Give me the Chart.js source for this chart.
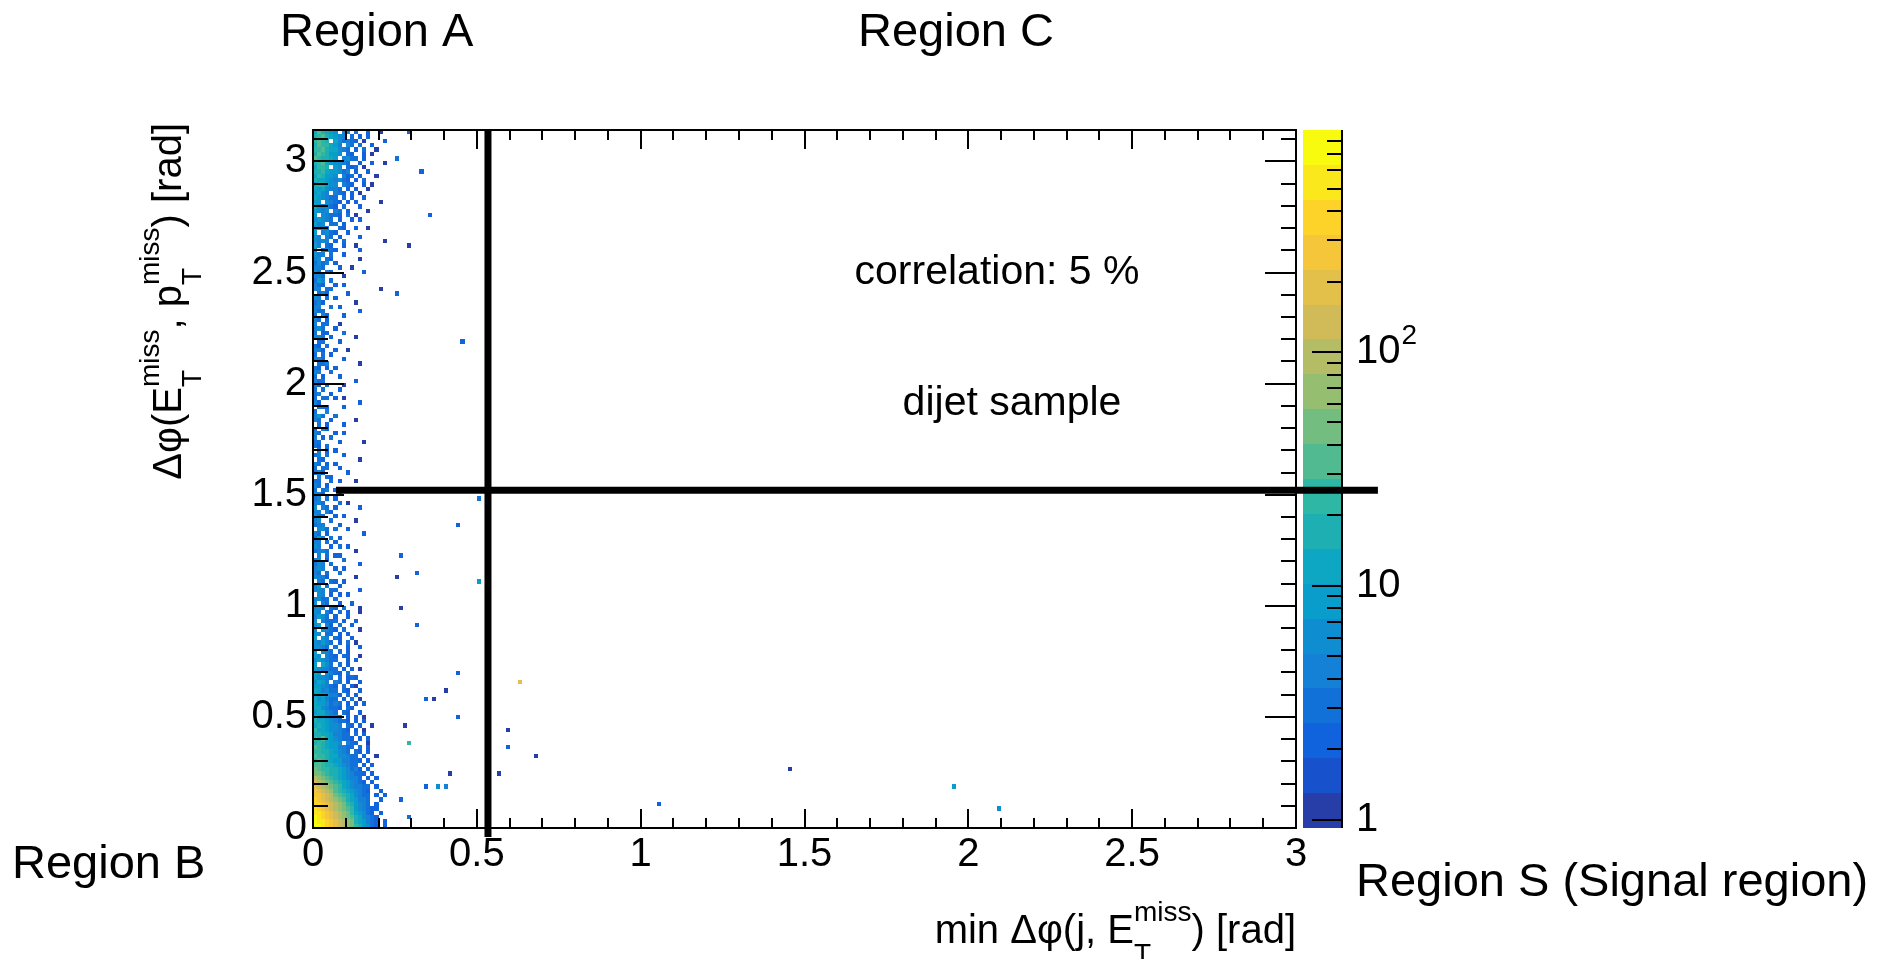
<!DOCTYPE html>
<html>
<head>
<meta charset="utf-8">
<title>min dphi correlation - dijet sample</title>
<script src="https://cdn.jsdelivr.net/npm/chart.js"></script>
<style>
body { margin: 0; background: #fff; }
#wrap { width: 1890px; height: 959px; }
</style>
</head>
<body>
<div id="wrap"><canvas id="corr-chart"></canvas></div>
<script>
// axis ticks
var xTickValues = [0, 0.5, 1, 1.5, 2, 2.5, 3];
var xTickLabels = ['0', '0.5', '1', '1.5', '2', '2.5', '3'];
var yTickValues = [0, 0.5, 1, 1.5, 2, 2.5, 3];
var yTickLabels = ['0', '0.5', '1', '1.5', '2', '2.5', '3'];
var zTickValues = [1, 10, 100];
var zTickLabels = ['1', '10', '10'];
var zTickExp = ['', '', '2'];

// colour axis range (log) and number of contours
var zMin = 0.92;
var zMax = 890;
var nLevels = 20;

// binning
var xBinWidth = 0.0125;
var yBinWidth = Math.PI / 160;

// entries per bin, one char per bin
var levelCounts = {'1':1,'2':2,'3':3,'4':4,'5':6,'6':8,'7':11,'8':15,'9':21,'a':30,
  'b':42,'c':60,'d':85,'e':120,'f':170,'g':240,'h':340,'i':480,'j':680};

// rows of the 2D histogram, top (y = pi) first, x from 0 in steps of xBinWidth
var densityRows = [
'7a876|5.45.|3..2.|.1...',
'89a87|654.3|.2.2.|.....',
'9a98.|75343|2.1..|..2..',
'8a997|64.53|.3..2|.....',
'99a87|7543.|2.3..|1....',
'8a986|65.32|..2.1|.....',
'a9887|6.453|3.2..|.....',
'89a76|5543.|.2..2|..1..',
'7998.|65.32|3.1..|.....',
'88976|6534.|2..2.|.....',
'79866|5.423|.2...|1....',
'87765|4532.|2.3..|.....',
'78865|5.432|..2.1|.....',
'76754|43.2.|2..1.|.....',
'6754.|432.2|.1...|.....',
'76543|3.3.2|..2..|.....',
'66.54|32.2.|2....|.1...',
'75453|2.3..|.2...|.....',
'6545.|43.2.|...1.|.....',
'6.543|32.3.|1....|.....',
'56543|.2..2|.2...|.....',
'645.3|3.2..|.....|.....',
'5543.|.32..|2..1.|.....',
'6.453|2..2.|.....|.....',
'54.43|.2...|.2...|.....',
'5454.|2.3..|.....|..1..',
'64.32|..2..|1....|.....',
'5.443|2....|.2...|.....',
'544.3|..2..|.....|.....',
'45.32|.....|.1...|.....',
'3534.|2....|.....|.....',
'443..|.2..1|.....|.....',
'53.42|.....|..2..|.....',
'443..|..1..|.....|.....',
'364.3|.....|.....|.....',
'432..|2.2..|.....|.....',
'44.33|.....|.....|.1...',
'.342.|...2.|.....|.....',
'54.3.|2....|.....|.....',
'342..|.....|1....|.....',
'44..3|.2...|.....|.....',
'433..|.....|.2...|.....',
'3.42.|..2..|.....|.....',
'43.2.|.....|.....|.....',
'4.33.|.1...|.....|.....',
'453..|2....|.....|.....',
'3.22.|..3..|.....|.....',
'443.2|.....|1....|.....',
'.33..|.2...|.....|.....',
'32.3.|.....|.....|.....',
'442..|2..1.|.....|.....',
'3.3.2|.....|.....|.....',
'443..|..2..|.....|.....',
'.334.|.....|.1...|.....',
'32.2.|2....|.....|.....',
'44..3|.....|.....|.....',
'3.2..|.2...|.....|.....',
'433..|.....|2....|.....',
'42.3.|..1..|.....|.....',
'3.3..|.2...|.....|.....',
'34..2|.....|.....|.....',
'3.33.|2.1..|.....|.....',
'42...|.....|.2...|.....',
'.332.|..2..|.....|.....',
'3..4.|.....|.....|.....',
'463..|3....|.....|.....',
'43..2|.....|1....|.....',
'.3.2.|..2..|.....|.....',
'3.42.|.....|.....|.....',
'43...|2.2..|.....|.....',
'4.2.3|.....|.....|.....',
'33...|.2...|..1..|.....',
'32.3.|.....|.....|.....',
'.4.2.|2....|.....|.....',
'34.3.|..2..|.....|.....',
'.32..|.....|.1...|.....',
'43.2.|2....|.....|.....',
'3.33.|.2...|.....|.....',
'342..|...2.|.....|.....',
'.4.32|.....|.....|.....',
'33..3|.2...|1....|.....',
'43.2.|.....|.....|.....',
'3.34.|2..2.|.....|.....',
'442..|.3...|.....|.....',
'34.3.|2....|.....|.....',
'443..|.3.1.|.....|.....',
'5.43.|2....|.2...|.....',
'44.42|.....|.....|.....',
'533..|2.2..|.....|.....',
'45..3|.....|1....|.....',
'344..|.2...|.....|.....',
'.553.|3..2.|.....|.....',
'43.2.|.....|..2..|.....',
'364.3|.2...|.....|.....',
'44.3.|2....|.....|.....',
'54..2|.3.2.|.....|.....',
'3443.|.....|1....|.....',
'.4.3.|22...|.....|.....',
'45.2.|..3..|.....|.....',
'354.3|.....|.2...|.....',
'454..|2.2..|.....|.....',
'43.3.|.3...|.....|.....',
'5442.|.....|1....|.....',
'.43.3|2.2..|.....|.....',
'46.3.|.2...|.....|.....',
'554.3|3....|.2...|.....',
'.54.2|.2.2.|.....|.....',
'4533.|3....|.....|.....',
'5.43.|.2..2|.....|.....',
'454.3|2.3..|.1...|.....',
'54.42|.3.2.|.1...|.....',
'4653.|2..2.|.....|.....',
'5.433|3.2..|2....|.....',
'56.42|.3..2|.....|.....',
'4.543|2.3..|.1...|.....',
'55.33|.2.2.|.....|.....',
'6.54.|32..2|.....|.....',
'54643|.2.3.|1....|.....',
'5543.|3..2.|.2...|.....',
'6.543|.3.2.|.....|.....',
'65.43|2.32.|.1...|.....',
'56543|3..2.|2....|.....',
'6.753|.3.2.|.....|.....',
'65443|3.2.2|.1...|.....',
'76.54|32.3.|.....|.....',
'65543|.3.23|2....|.....',
'5764.|43.2.|.2...|.....',
'66543|2.3.2|1....|.....',
'76453|3.32.|.2...|.....',
'66754|42.3.|2....|.....',
'75643|3.2.3|.1...|.....',
'76653|43.2.|2.2..|.....',
'77543|32.32|.....|.....',
'67754|3.32.|.2...|.....',
'86654|43.2.|2.1..|.....',
'87765|4332.|2.2..|.....',
'78765|54.32|.2..1|.....',
'97765|5432.|2.1..|.....',
'88776|4433.|3.2..|.....',
'98a76|54332|.2.2.|.....',
'89876|65.43|2..1.|.....',
'a9876|64433|.3.2.|.....',
'99887|6543.|32.2.|.....',
'a9987|75543|3.2..|1....',
'9a987|66443|32.2.|.....',
'aa988|76543|3.2.2|.....',
'ba998|87653|42.2.|.....',
'bba98|87654|332.2|.....',
'dcba9|87654|43.2.|2....',
'edcba|98765|432.2|.....',
'fedcb|a9765|4433.|2....',
'gfedc|a9876|5432.|.2...',
'ggfed|ba987|5433.|2.2..',
'hgfed|cba87|6443.|.2...',
'hhgfe|dcb98|6543.|2....',
'ihgfe|dcba9|65432|2....',
'iihgf|edcb9|76532|.2...',
'jihgf|edcba|87543|2....',
'jiihg|fedcb|87643|2.2..',
'jjihg|fedcb|98653|2.2..'
];

// isolated bins further out: [x, y, entries]
var extraCells = [
  [0.30, 3.13, 2], [0.33, 2.95, 2], [0.36, 2.75, 2], [0.29, 2.62, 1], [0.26, 2.40, 2],
  [0.25, 3.02, 3], [0.46, 2.19, 2], [0.27, 1.22, 2], [0.32, 1.14, 2], [0.26, 1.13, 1],
  [0.44, 1.36, 2], [0.50, 1.48, 3], [0.50, 1.10, 8], [0.27, 0.99, 1], [0.32, 0.92, 2],
  [0.44, 0.70, 2], [0.40, 0.61, 1], [0.35, 0.58, 2], [0.37, 0.58, 1], [0.63, 0.66, 170],
  [0.44, 0.50, 2], [0.60, 0.44, 1], [0.60, 0.36, 2], [0.68, 0.32, 1], [0.57, 0.24, 1],
  [1.46, 0.26, 1], [1.95, 0.18, 8], [0.415, 0.24, 1], [0.35, 0.18, 2], [0.38, 0.18, 6],
  [0.40, 0.18, 4], [0.29, 0.38, 21], [0.28, 0.46, 1], [1.05, 0.11, 2], [2.09, 0.09, 6],
  [0.30, 0.05, 3], [0.27, 0.12, 2]
];

// region cuts
var verticalCut = [{x: 0.534, y: -0.04}, {x: 0.534, y: Math.PI}];
var horizontalCut = [{x: 0.07, y: 1.52}, {x: 3.25, y: 1.52}];

// kBird palette
var birdStops = [0.0, 0.125, 0.25, 0.375, 0.5, 0.625, 0.75, 0.875, 1.0];
var birdR = [0.2082, 0.0592, 0.0780, 0.0232, 0.1802, 0.5301, 0.8186, 0.9956, 0.9764];
var birdG = [0.1664, 0.3599, 0.5041, 0.6419, 0.7178, 0.7492, 0.7328, 0.7862, 0.9832];
var birdB = [0.5293, 0.8684, 0.8385, 0.7914, 0.6425, 0.4662, 0.3499, 0.1968, 0.0539];

var FONT = '"Liberation Sans", Arial, sans-serif';

function birdColor(f) {
  var i = 0;
  while (i < birdStops.length - 2 && f > birdStops[i + 1]) i++;
  var t = (f - birdStops[i]) / (birdStops[i + 1] - birdStops[i]);
  var r = birdR[i] + t * (birdR[i + 1] - birdR[i]);
  var g = birdG[i] + t * (birdG[i + 1] - birdG[i]);
  var b = birdB[i] + t * (birdB[i + 1] - birdB[i]);
  return 'rgb(' + Math.round(r * 255) + ',' + Math.round(g * 255) + ',' + Math.round(b * 255) + ')';
}
function levelColor(k) {
  return birdColor(Math.floor((k + 0.99) * 255 / nLevels) / 254);
}
function countColor(v) {
  var k = Math.floor((Math.log10(v) - Math.log10(zMin)) / (Math.log10(zMax) - Math.log10(zMin)) * nLevels);
  return levelColor(Math.max(0, Math.min(nLevels - 1, k)));
}

var cellPoints = [];
densityRows.forEach(function(row, r) {
  var cells = row.replace(/\|/g, '');
  for (var c = 0; c < cells.length; c++) {
    var ch = cells.charAt(c);
    if (ch === '.') continue;
    cellPoints.push({x: c * xBinWidth, y: Math.PI - (r + 1) * yBinWidth, v: levelCounts[ch]});
  }
});
extraCells.forEach(function(e) {
  cellPoints.push({x: Math.floor(e[0] / xBinWidth) * xBinWidth, y: Math.floor(e[1] / yBinWidth) * yBinWidth, v: e[2]});
});

// text with stacked sub/superscripts, e.g. E_T^miss
function richWidth(ctx, parts, size) {
  var w = 0;
  parts.forEach(function(p) {
    if (typeof p === 'string') {
      ctx.font = size + 'px ' + FONT;
      w += ctx.measureText(p).width;
    } else {
      ctx.font = Math.round(size * 0.7) + 'px ' + FONT;
      w += Math.max(ctx.measureText(p.sub).width, ctx.measureText(p.sup).width);
    }
  });
  return w;
}
function drawRich(ctx, parts, x, y, size) {
  ctx.textBaseline = 'alphabetic';
  ctx.textAlign = 'left';
  parts.forEach(function(p) {
    if (typeof p === 'string') {
      ctx.font = size + 'px ' + FONT;
      ctx.fillText(p, x, y);
      x += ctx.measureText(p).width;
    } else {
      ctx.font = Math.round(size * 0.7) + 'px ' + FONT;
      ctx.fillText(p.sup, x, y - size * 0.55);
      ctx.fillText(p.sub, x, y + size * 0.5);
      x += Math.max(ctx.measureText(p.sub).width, ctx.measureText(p.sup).width);
    }
  });
}

var xTitle = ['min \u0394\u03c6(j, E', {sub: 'T', sup: 'miss'}, ') [rad]'];
var yTitle = ['\u0394\u03c6(E', {sub: 'T', sup: 'miss'}, ', p', {sub: 'T', sup: 'miss'}, ') [rad]'];

var rootStyle = {
  id: 'rootStyle',
  beforeDatasetsDraw: function(chart) {
    var ctx = chart.ctx, xs = chart.scales.x, ys = chart.scales.y, zs = chart.scales.z;
    var area = chart.chartArea;
    ctx.save();
    cellPoints.forEach(function(p) {
      var x0 = Math.round(xs.getPixelForValue(p.x));
      var x1 = Math.round(xs.getPixelForValue(p.x + xBinWidth));
      var y0 = Math.round(ys.getPixelForValue(p.y));
      var y1 = Math.round(ys.getPixelForValue(p.y + yBinWidth));
      ctx.fillStyle = countColor(p.v);
      ctx.fillRect(x0, y1, x1 - x0, y0 - y1);
    });
    // colour bar
    var bx0 = area.right + 7, bx1 = area.right + 46;
    for (var k = 0; k < nLevels; k++) {
      var lo = zMin * Math.pow(zMax / zMin, k / nLevels);
      var hi = zMin * Math.pow(zMax / zMin, (k + 1) / nLevels);
      var p0 = Math.round(zs.getPixelForValue(lo)), p1 = Math.round(zs.getPixelForValue(hi));
      ctx.fillStyle = levelColor(k);
      ctx.fillRect(bx0, p1, bx1 - bx0, p0 - p1);
    }
    ctx.restore();
  },
  afterDatasetsDraw: function(chart) {
    var ctx = chart.ctx, xs = chart.scales.x, ys = chart.scales.y, zs = chart.scales.z;
    var area = chart.chartArea;
    ctx.save();
    ctx.strokeStyle = '#000';
    ctx.lineWidth = 2;
    ctx.strokeRect(area.left, area.top, area.right - area.left, area.bottom - area.top);
    ctx.beginPath();
    for (var i = 0; i <= 30; i++) {
      var px = Math.round(xs.getPixelForValue(i / 10));
      var len = (i % 5 === 0) ? 19 : 10;
      ctx.moveTo(px, area.bottom); ctx.lineTo(px, area.bottom - len);
      ctx.moveTo(px, area.top); ctx.lineTo(px, area.top + len);
    }
    for (var j = 0; j <= 31; j++) {
      var py = Math.round(ys.getPixelForValue(j / 10));
      var ylen = (j % 5 === 0) ? 31 : 15;
      ctx.moveTo(area.left, py); ctx.lineTo(area.left + ylen, py);
      ctx.moveTo(area.right, py); ctx.lineTo(area.right - ylen, py);
    }
    ctx.stroke();

    // colour bar axis
    var bx1 = area.right + 46;
    ctx.beginPath();
    ctx.moveTo(bx1, zs.getPixelForValue(zMax));
    ctx.lineTo(bx1, zs.getPixelForValue(zMin));
    [1, 10, 100].forEach(function(dec) {
      for (var m = 1; m <= 9; m++) {
        var v = dec * m;
        if (v > zMax) break;
        var pz = Math.round(zs.getPixelForValue(v));
        ctx.moveTo(bx1, pz); ctx.lineTo(bx1 - (m === 1 ? 30 : 15), pz);
      }
    });
    ctx.stroke();

    ctx.fillStyle = '#000';
    ctx.textBaseline = 'middle';
    ctx.textAlign = 'left';
    zTickValues.forEach(function(v, i) {
      var pz = zs.getPixelForValue(v);
      ctx.font = '40px ' + FONT;
      ctx.fillText(zTickLabels[i], area.right + 60, pz);
      if (zTickExp[i]) {
        var w = ctx.measureText(zTickLabels[i]).width;
        ctx.font = '28px ' + FONT;
        ctx.fillText(zTickExp[i], area.right + 60 + w + 1, pz - 16);
      }
    });

    // axis titles
    drawRich(ctx, xTitle, area.right - richWidth(ctx, xTitle, 40), 943, 40);
    ctx.save();
    ctx.translate(181, 123);
    ctx.rotate(-Math.PI / 2);
    drawRich(ctx, yTitle, -richWidth(ctx, yTitle, 40), 0, 40);
    ctx.restore();

    // labels inside the frame
    ctx.textAlign = 'center';
    ctx.textBaseline = 'alphabetic';
    ctx.font = '41px ' + FONT;
    ctx.fillText('correlation: 5 %', 997, 284);
    ctx.fillText('dijet sample', 1012, 415);

    // region names
    ctx.textAlign = 'left';
    ctx.font = '47px ' + FONT;
    ctx.fillText('Region A', 280, 46);
    ctx.fillText('Region C', 858, 46);
    ctx.fillText('Region B', 12, 878);
    ctx.fillText('Region S (Signal region)', 1356, 896);
    ctx.restore();
  }
};

var tickFont = {family: FONT, size: 40};

new Chart(document.getElementById('corr-chart'), {
  type: 'scatter',
  data: {
    datasets: [
      {label: 'dijet sample', data: cellPoints, pointRadius: 0, pointHoverRadius: 0},
      {label: 'cut A/C', data: verticalCut, showLine: true, borderColor: '#000', borderWidth: 7,
       pointRadius: 0, clip: false, borderCapStyle: 'butt'},
      {label: 'cut B/S', data: horizontalCut, showLine: true, borderColor: '#000', borderWidth: 7,
       pointRadius: 0, clip: false, borderCapStyle: 'butt'}
    ]
  },
  options: {
    animation: false,
    responsive: true,
    maintainAspectRatio: false,
    events: [],
    layout: {padding: {left: 213, right: 594, top: 130, bottom: 71}},
    plugins: {legend: {display: false}, tooltip: {enabled: false}},
    scales: {
      x: {
        type: 'linear', min: 0, max: 3, position: 'bottom',
        afterBuildTicks: function(s) { s.ticks = xTickValues.map(function(v) { return {value: v}; }); },
        afterFit: function(s) { s.height = 60; },
        grid: {display: false, drawTicks: false},
        border: {display: false},
        ticks: {autoSkip: false, maxRotation: 0, padding: 3, color: '#000', font: tickFont,
          callback: function(v) { return xTickLabels[xTickValues.indexOf(v)]; }}
      },
      y: {
        type: 'linear', min: 0, max: Math.PI, position: 'left',
        afterBuildTicks: function(s) { s.ticks = yTickValues.map(function(v) { return {value: v}; }); },
        afterFit: function(s) { s.width = 100; },
        grid: {display: false, drawTicks: false},
        border: {display: false},
        ticks: {autoSkip: false, padding: 6, color: '#000', font: tickFont,
          callback: function(v) { return yTickLabels[yTickValues.indexOf(v)]; }}
      },
      z: {type: 'logarithmic', display: false, position: 'right', min: zMin, max: zMax}
    }
  },
  plugins: [rootStyle]
});
</script>
</body>
</html>
